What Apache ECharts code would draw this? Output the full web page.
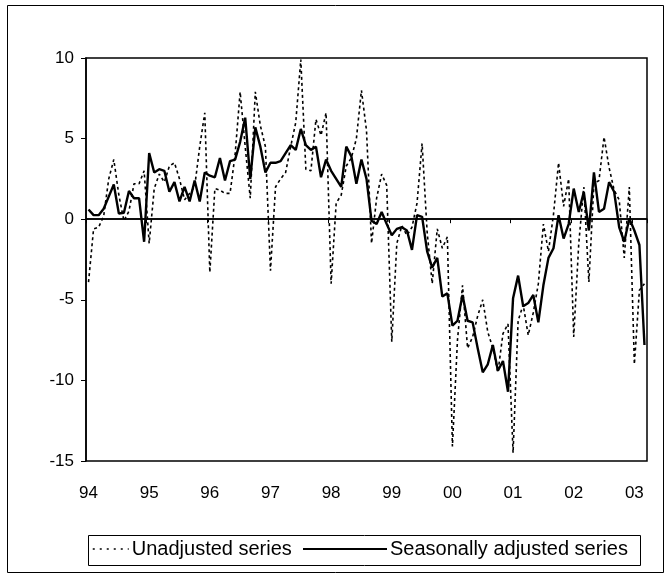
<!DOCTYPE html>
<html>
<head>
<meta charset="utf-8">
<script src="https://cdn.jsdelivr.net/npm/echarts@6/dist/echarts.min.js"></script>
<style>
  html, body { margin: 0; background: #fff; }
  #chart { width: 670px; height: 579px; }
</style>
</head>
<body>
<div id="chart"></div>
<script>
// year tick labels (one per January)
const yearLabels = ['94', '95', '96', '97', '98', '99', '00', '01', '02', '03'];
const monthCount = 111; // Jan 1994 .. Mar 2003

// monthly categories, e.g. '94-01'
const months = [];
yearLabels.forEach(y => {
  for (let m = 1; m <= 12; m++) {
    if (months.length < monthCount) months.push(y + '-' + String(m).padStart(2, '0'));
  }
});

const unadjusted = [
  -3.9, -0.6, -0.5, 0.2, 2.5, 3.7, 1.5, -0.1, 0.5, 2.2, 2.2, 3.0,
  -1.5, 1.9, 2.8, 2.3, 3.3, 3.5, 2.5, 1.2, 1.6, 2.0, 4.5, 6.6,
  -3.3, 1.9, 1.8, 1.6, 1.6, 4.0, 7.9, 4.5, 1.3, 7.9, 5.8, 4.5,
  -3.2, 2.0, 2.5, 2.9, 4.5, 6.0, 9.9, 3.1, 3.0, 6.2, 5.2, 6.6,
  -4.0, 1.0, 1.5, 3.3, 3.8, 5.0, 8.0, 5.5, -1.5, 1.3, 2.8, 2.1,
  -7.6, -1.5, -0.4, -1.0, -0.5, 1.0, 4.7, -0.8, -4.0, -0.6, -1.8, -1.1,
  -14.1, -7.5, -4.1, -8.0, -7.3, -6.0, -5.0, -7.0, -8.0, -9.5, -7.1, -6.5,
  -14.5, -6.3, -5.3, -7.2, -5.8, -4.0, -0.3, -2.0, 0.3, 3.5, 0.8, 2.5,
  -7.3, -1.5, 2.0, -3.9, 2.2, 2.4, 5.1, 3.2, 1.8, 1.2, -2.4, 2.0,
  -9.0, -4.4, -4.0
];

const seasonallyAdjusted = [
  0.6, 0.25, 0.25, 0.65, 1.4, 2.15, 0.35, 0.4, 1.75, 1.3, 1.3, -1.4,
  4.1, 2.9, 3.1, 3.0, 1.7, 2.3, 1.1, 2.0, 1.1, 2.4, 1.1, 2.9,
  2.7, 2.6, 3.8, 2.4, 3.6, 3.7, 4.8, 6.3, 2.5, 5.7, 4.5, 2.9,
  3.5, 3.5, 3.6, 4.1, 4.6, 4.3, 5.6, 4.6, 4.3, 4.5, 2.6, 3.7,
  3.0, 2.5, 2.0, 4.5, 3.9, 2.2, 3.7, 2.5, -0.1, -0.3, 0.45, -0.3,
  -1.0, -0.6, -0.5, -0.7, -1.9, 0.25, 0.15, -2.0, -3.0, -2.4, -4.8, -4.6,
  -6.6, -6.3, -4.7, -6.3, -6.4, -8.0, -9.5, -9.0, -7.8, -9.4, -8.8, -10.7,
  -4.9, -3.5, -5.4, -5.2, -4.7, -6.4, -4.1, -2.4, -1.8, 0.25, -1.2, -0.3,
  1.9, 0.45, 1.7, -0.7, 2.9, 0.45, 0.65, 2.3, 1.7, -0.5, -1.4, 0.05,
  -0.7, -1.6, -7.8
];

const font = 'Liberation Sans, Arial, sans-serif';

const chart = echarts.init(document.getElementById('chart'));

// shared legend look: line only, no symbol
const legendBase = {
  top: 539,
  itemHeight: 12,
  itemGap: 0,
  padding: 0,
  itemStyle: { opacity: 0 },
  textStyle: { color: '#000', fontSize: 20, fontFamily: font, padding: [0, 0, 0, -2] }
};

chart.setOption({
  animation: false,
  backgroundColor: '#fff',
  textStyle: { fontFamily: font },
  graphic: [
    {
      type: 'rect',
      shape: { x: 7.5, y: 5.5, width: 656, height: 567 },
      style: { fill: 'none', stroke: '#000', lineWidth: 1 },
      silent: true
    },
    {
      // legend frame
      type: 'rect',
      shape: { x: 88.5, y: 535.5, width: 552, height: 30 },
      style: { fill: 'none', stroke: '#000', lineWidth: 1 },
      silent: true
    }
  ],
  grid: {
    left: 86, top: 58, width: 561, height: 403,
    show: true, borderColor: '#000', borderWidth: 1.5, backgroundColor: 'transparent'
  },
  legend: [
    Object.assign({}, legendBase, {
      left: 92,
      itemWidth: 36,
      lineStyle: { type: [2, 5], width: 1.5 },
      data: ['Unadjusted series']
    }),
    Object.assign({}, legendBase, {
      left: 302,
      itemWidth: 84,
      lineStyle: { width: 2 },
      data: ['Seasonally adjusted series']
    })
  ],
  xAxis: {
    type: 'category',
    data: months,
    boundaryGap: true,
    axisLine: { lineStyle: { color: '#000', width: 1.5 } },
    axisTick: { show: true, interval: 11, length: 4, lineStyle: { color: '#000' } },
    axisLabel: {
      interval: 11,
      margin: 24,
      color: '#000',
      fontSize: 17,
      fontFamily: font,
      formatter: v => v.slice(0, 2)
    },
    splitLine: { show: false }
  },
  yAxis: {
    type: 'value',
    min: -15,
    max: 10,
    interval: 5,
    axisLine: { show: true, lineStyle: { color: '#000', width: 1.5 } },
    axisTick: { show: true, length: 5, lineStyle: { color: '#000' } },
    axisLabel: { color: '#000', fontSize: 17, fontFamily: font, margin: 12 },
    splitLine: { show: false }
  },
  series: [
    {
      name: 'Unadjusted series',
      type: 'line',
      data: unadjusted,
      symbol: 'none',
      lineStyle: { color: '#000', width: 1.6, type: [3, 3] },
      itemStyle: { color: '#000' },
      z: 2
    },
    {
      name: 'Seasonally adjusted series',
      type: 'line',
      data: seasonallyAdjusted,
      symbol: 'none',
      lineStyle: { color: '#000', width: 2.4 },
      itemStyle: { color: '#000' },
      z: 3,
      markLine: {
        silent: true,
        symbol: ['none', 'none'],
        label: { show: false },
        lineStyle: { color: '#000', width: 1.5, type: 'solid' },
        data: [{ yAxis: 0 }]
      }
    }
  ]
});

window.addEventListener('resize', function () {
  chart.resize();
});
</script>
</body>
</html>
